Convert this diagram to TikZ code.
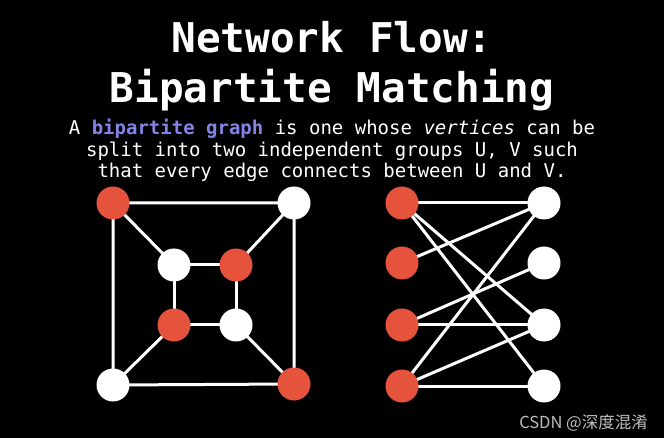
\documentclass[tikz,border=0pt]{standalone}
\usepackage{fontspec}
\usetikzlibrary{backgrounds}
\newfontfamily\monofont{DejaVu Sans Mono}
\newfontfamily\cjkfont{Noto Sans CJK SC}
\definecolor{vred}{RGB}{229,83,61}
\definecolor{hlblue}{RGB}{132,132,232}
\definecolor{wmgrey}{RGB}{190,190,190}
\begin{document}
\begin{tikzpicture}[x=1pt,y=-1pt,
  rnode/.style={circle,fill=vred,minimum size=33pt,inner sep=0pt},
  wnode/.style={circle,fill=white,minimum size=33pt,inner sep=0pt},
  edge/.style={draw=white,line width=3pt},
  titletext/.style={text=white,font=\monofont\bfseries\fontsize{41}{41}\selectfont,anchor=base,inner sep=0pt},
  bodytext/.style={text=white,font=\monofont\fontsize{19}{19}\selectfont,anchor=base,inner sep=0pt}]
\useasboundingbox (0,0) rectangle (664,438);
\begin{pgfonlayer}{background}
\fill[black] (0,0) rectangle (664,438);
\end{pgfonlayer}
% title
\node[titletext] (t1) at (332,53) {Network Flow:};
\node[titletext] (t2) at (332,103) {Bipartite Matching};
% body
\node[bodytext] (b1) at (332,135) {A \textcolor{hlblue}{\bfseries bipartite graph} is one whose \textit{vertices} can be};
\node[bodytext] (b2) at (332,157) {split into two independent groups U, V such};
\node[bodytext] (b3) at (332,178) {that every edge connects between U and V.};
% left graph
\node[rnode] (a1) at (113,203) {};
\node[wnode] (a2) at (294,203) {};
\node[wnode] (a3) at (174,265) {};
\node[rnode] (a4) at (236,265) {};
\node[rnode] (a5) at (174,325) {};
\node[wnode] (a6) at (236,325) {};
\node[wnode] (a7) at (113,385) {};
\node[rnode] (a8) at (294,384) {};
% right graph
\node[rnode] (l1) at (402,203) {};
\node[rnode] (l2) at (402,263) {};
\node[rnode] (l3) at (402,325) {};
\node[rnode] (l4) at (402,386) {};
\node[wnode] (r1) at (544,203) {};
\node[wnode] (r2) at (544,263) {};
\node[wnode] (r3) at (544,325) {};
\node[wnode] (r4) at (544,386) {};
\begin{pgfonlayer}{background}
\path[edge] (a1.center) -- (a2.center) -- (a8.center) -- (a7.center) -- cycle;
\path[edge] (a3.center) -- (a4.center) -- (a6.center) -- (a5.center) -- cycle;
\path[edge] (a1.center) -- (a3.center);
\path[edge] (a2.center) -- (a4.center);
\path[edge] (a7.center) -- (a5.center);
\path[edge] (a8.center) -- (a6.center);
\path[edge] (l1.center) -- (r1.center);
\path[edge] (l1.center) -- (r3.center);
\path[edge] (l1.center) -- (r4.center);
\path[edge] (l2.center) -- (r1.center);
\path[edge] (l3.center) -- (r2.center);
\path[edge] (l3.center) -- (r3.center);
\path[edge] (l4.center) -- (r1.center);
\path[edge] (l4.center) -- (r3.center);
\path[edge] (l4.center) -- (r4.center);
\end{pgfonlayer}
% watermark
\node[text=wmgrey,font=\cjkfont\fontsize{16.5}{16.5}\selectfont,anchor=base east,inner sep=0pt] (wm) at (648,428) {CSDN @深度混淆};
\end{tikzpicture}
\end{document}
